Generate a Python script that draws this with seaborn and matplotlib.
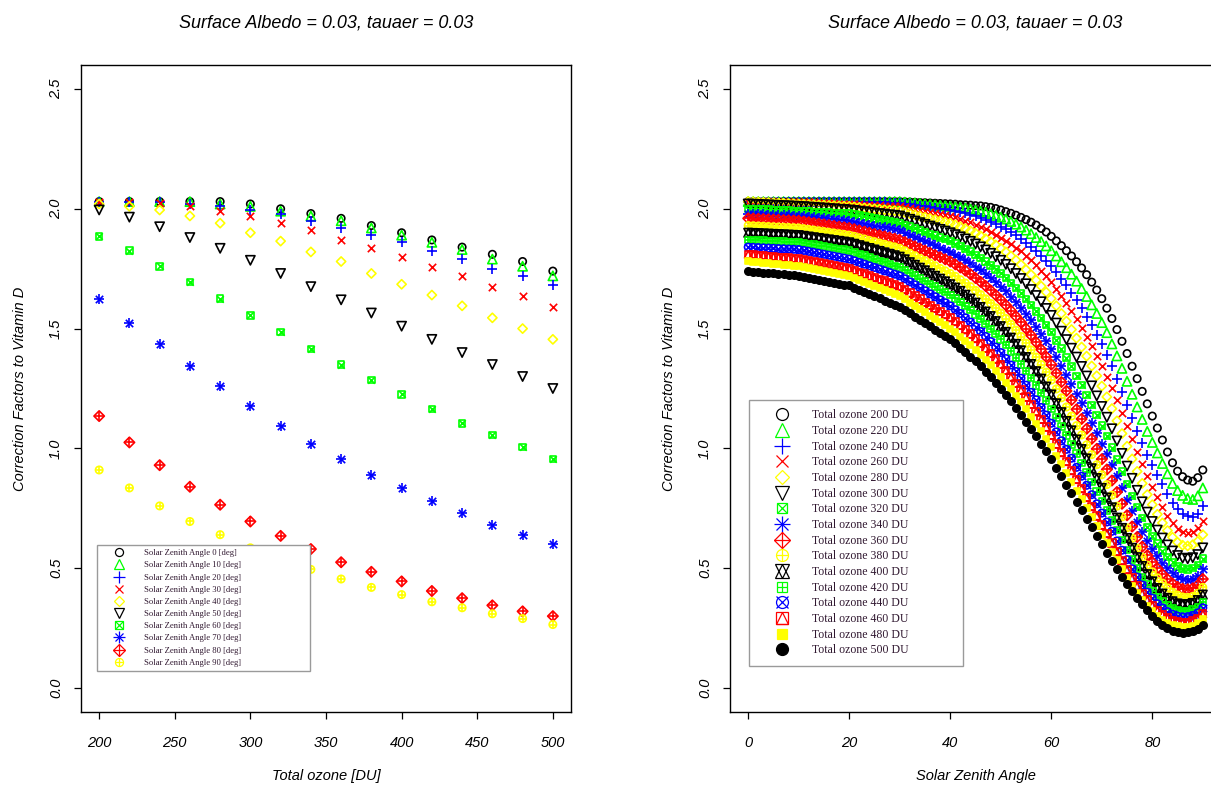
import numpy as np
import matplotlib
matplotlib.use('Agg')  # no display
import matplotlib.pyplot as plt
from matplotlib.lines import Line2D
from matplotlib.markers import MarkerStyle
import seaborn as sns

# ---------------- data: left panel (factor vs total ozone, one series per SZA) ----------------
ozone = [200, 220, 240, 260, 280, 300, 320, 340, 360, 380, 400, 420, 440, 460, 480, 500]
sza_left = [0, 10, 20, 30, 40, 50, 60, 70, 80, 90]

cf_sza0 = [2.03, 2.03, 2.03, 2.03, 2.03, 2.02, 2.00, 1.98, 1.96, 1.93, 1.90, 1.87, 1.84, 1.81, 1.78, 1.74]
cf_sza10 = [2.03, 2.03, 2.03, 2.03, 2.02, 2.01, 1.99, 1.97, 1.95, 1.92, 1.89, 1.86, 1.83, 1.79, 1.76, 1.72]
cf_sza20 = [2.03, 2.03, 2.03, 2.02, 2.01, 1.995, 1.98, 1.95, 1.92, 1.89, 1.86, 1.825, 1.79, 1.75, 1.72, 1.68]
cf_sza30 = [2.03, 2.03, 2.025, 2.01, 1.99, 1.97, 1.94, 1.91, 1.87, 1.835, 1.80, 1.755, 1.72, 1.675, 1.635, 1.59]
cf_sza40 = [2.02, 2.01, 1.995, 1.97, 1.94, 1.90, 1.865, 1.82, 1.78, 1.73, 1.685, 1.64, 1.595, 1.545, 1.50, 1.455]
cf_sza50 = [1.995, 1.965, 1.925, 1.88, 1.835, 1.785, 1.73, 1.675, 1.62, 1.565, 1.51, 1.455, 1.40, 1.35, 1.30, 1.25]
cf_sza60 = [1.885, 1.825, 1.76, 1.695, 1.625, 1.555, 1.485, 1.415, 1.35, 1.285, 1.225, 1.165, 1.105, 1.055, 1.005, 0.955]
cf_sza70 = [1.625, 1.525, 1.435, 1.345, 1.26, 1.175, 1.095, 1.02, 0.955, 0.89, 0.835, 0.78, 0.73, 0.68, 0.64, 0.60]
cf_sza80 = [1.135, 1.025, 0.93, 0.84, 0.765, 0.695, 0.635, 0.58, 0.525, 0.485, 0.445, 0.405, 0.375, 0.345, 0.32, 0.30]
cf_sza90 = [0.91, 0.835, 0.76, 0.695, 0.64, 0.585, 0.54, 0.495, 0.455, 0.42, 0.39, 0.36, 0.335, 0.31, 0.29, 0.265]

# ---------------- data: right panel (factor vs SZA 0..90, one series per ozone) ----------------
sza_deg = np.arange(0, 91)

cf_o200 = [2.03, 2.03, 2.03, 2.03, 2.03, 2.03, 2.03, 2.03, 2.03, 2.03,
           2.03, 2.03, 2.03, 2.03, 2.03, 2.03, 2.03, 2.03, 2.03, 2.03,
           2.03, 2.03, 2.03, 2.03, 2.03, 2.03, 2.03, 2.03, 2.03, 2.03,
           2.03, 2.029, 2.028, 2.027, 2.026, 2.025, 2.024, 2.023, 2.022, 2.021,
           2.02, 2.019, 2.017, 2.016, 2.015, 2.013, 2.012, 2.009, 2.006, 2.001,
           1.995, 1.988, 1.981, 1.973, 1.964, 1.955, 1.944, 1.932, 1.918, 1.903,
           1.885, 1.866, 1.846, 1.825, 1.803, 1.779, 1.753, 1.725, 1.694, 1.661,
           1.625, 1.585, 1.542, 1.496, 1.447, 1.396, 1.343, 1.291, 1.238, 1.186,
           1.135, 1.085, 1.035, 0.985, 0.94, 0.905, 0.882, 0.868, 0.863, 0.878,
           0.91]
cf_o220 = [2.03, 2.03, 2.03, 2.03, 2.03, 2.03, 2.03, 2.03, 2.03, 2.03,
           2.03, 2.03, 2.03, 2.03, 2.03, 2.03, 2.03, 2.03, 2.03, 2.03,
           2.03, 2.03, 2.03, 2.03, 2.03, 2.03, 2.03, 2.03, 2.03, 2.03,
           2.03, 2.028, 2.026, 2.024, 2.022, 2.02, 2.018, 2.016, 2.014, 2.012,
           2.01, 2.008, 2.006, 2.003, 1.999, 1.995, 1.990, 1.985, 1.979, 1.972,
           1.965, 1.957, 1.947, 1.936, 1.924, 1.911, 1.896, 1.880, 1.863, 1.845,
           1.825, 1.803, 1.779, 1.754, 1.727, 1.698, 1.667, 1.634, 1.599, 1.563,
           1.525, 1.483, 1.436, 1.386, 1.334, 1.28, 1.226, 1.173, 1.121, 1.071,
           1.025, 0.981, 0.937, 0.894, 0.854, 0.824, 0.804, 0.791, 0.787, 0.802,
           0.835]
cf_o240 = [2.03, 2.03, 2.03, 2.03, 2.03, 2.03, 2.03, 2.03, 2.03, 2.03,
           2.03, 2.03, 2.03, 2.03, 2.03, 2.03, 2.03, 2.03, 2.03, 2.03,
           2.03, 2.03, 2.029, 2.029, 2.028, 2.028, 2.027, 2.027, 2.026, 2.026,
           2.025, 2.022, 2.019, 2.016, 2.013, 2.01, 2.007, 2.004, 2.001, 1.998,
           1.995, 1.991, 1.986, 1.981, 1.975, 1.968, 1.961, 1.953, 1.944, 1.935,
           1.925, 1.914, 1.902, 1.889, 1.874, 1.859, 1.841, 1.823, 1.803, 1.782,
           1.76, 1.735, 1.709, 1.68, 1.65, 1.619, 1.585, 1.55, 1.514, 1.475,
           1.435, 1.391, 1.342, 1.29, 1.236, 1.181, 1.126, 1.072, 1.021, 0.973,
           0.93, 0.89, 0.85, 0.81, 0.774, 0.746, 0.728, 0.717, 0.713, 0.728,
           0.76]
cf_o260 = [2.03, 2.03, 2.03, 2.03, 2.03, 2.03, 2.03, 2.03, 2.03, 2.03,
           2.03, 2.029, 2.028, 2.027, 2.026, 2.025, 2.024, 2.023, 2.022, 2.021,
           2.02, 2.019, 2.018, 2.017, 2.016, 2.015, 2.014, 2.013, 2.012, 2.011,
           2.01, 2.006, 2.002, 1.998, 1.994, 1.99, 1.986, 1.982, 1.978, 1.974,
           1.97, 1.964, 1.958, 1.951, 1.943, 1.934, 1.925, 1.915, 1.904, 1.892,
           1.88, 1.867, 1.853, 1.838, 1.822, 1.804, 1.785, 1.764, 1.742, 1.719,
           1.695, 1.667, 1.638, 1.607, 1.574, 1.54, 1.504, 1.467, 1.428, 1.387,
           1.345, 1.3, 1.252, 1.201, 1.148, 1.094, 1.04, 0.987, 0.935, 0.886,
           0.84, 0.796, 0.756, 0.719, 0.688, 0.665, 0.652, 0.648, 0.653, 0.667,
           0.695]
cf_o280 = [2.03, 2.029, 2.028, 2.027, 2.026, 2.025, 2.024, 2.023, 2.022, 2.021,
           2.02, 2.019, 2.018, 2.017, 2.016, 2.015, 2.014, 2.013, 2.012, 2.011,
           2.01, 2.008, 2.006, 2.004, 2.002, 2.0, 1.998, 1.996, 1.994, 1.992,
           1.99, 1.985, 1.98, 1.975, 1.97, 1.965, 1.96, 1.955, 1.95, 1.945,
           1.94, 1.933, 1.925, 1.917, 1.908, 1.898, 1.887, 1.875, 1.862, 1.849,
           1.835, 1.82, 1.803, 1.786, 1.767, 1.746, 1.725, 1.702, 1.677, 1.652,
           1.625, 1.595, 1.563, 1.531, 1.496, 1.46, 1.423, 1.385, 1.344, 1.303,
           1.26, 1.215, 1.166, 1.115, 1.062, 1.009, 0.956, 0.904, 0.854, 0.807,
           0.765, 0.725, 0.689, 0.657, 0.629, 0.608, 0.596, 0.593, 0.598, 0.612,
           0.64]
cf_o300 = [2.02, 2.019, 2.018, 2.017, 2.016, 2.015, 2.014, 2.013, 2.012, 2.011,
           2.01, 2.009, 2.007, 2.006, 2.004, 2.003, 2.001, 2.0, 1.998, 1.997,
           1.995, 1.993, 1.99, 1.988, 1.985, 1.983, 1.98, 1.978, 1.975, 1.973,
           1.97, 1.963, 1.956, 1.949, 1.942, 1.935, 1.928, 1.921, 1.914, 1.907,
           1.9, 1.892, 1.883, 1.874, 1.864, 1.853, 1.841, 1.828, 1.814, 1.8,
           1.785, 1.768, 1.75, 1.73, 1.709, 1.687, 1.663, 1.638, 1.612, 1.584,
           1.555, 1.523, 1.489, 1.454, 1.418, 1.381, 1.342, 1.302, 1.261, 1.219,
           1.175, 1.13, 1.082, 1.031, 0.979, 0.926, 0.875, 0.825, 0.777, 0.734,
           0.695, 0.659, 0.626, 0.597, 0.572, 0.553, 0.542, 0.539, 0.544, 0.557,
           0.585]
cf_o320 = [2.0, 1.999, 1.998, 1.997, 1.996, 1.995, 1.994, 1.993, 1.992, 1.991,
           1.99, 1.989, 1.988, 1.987, 1.986, 1.985, 1.984, 1.983, 1.982, 1.981,
           1.98, 1.976, 1.972, 1.968, 1.964, 1.96, 1.956, 1.952, 1.948, 1.944,
           1.94, 1.933, 1.925, 1.918, 1.91, 1.903, 1.895, 1.888, 1.88, 1.873,
           1.865, 1.855, 1.845, 1.833, 1.821, 1.808, 1.794, 1.779, 1.764, 1.747,
           1.73, 1.711, 1.691, 1.67, 1.647, 1.624, 1.598, 1.572, 1.544, 1.515,
           1.485, 1.451, 1.416, 1.379, 1.342, 1.303, 1.264, 1.223, 1.182, 1.139,
           1.095, 1.051, 1.003, 0.953, 0.903, 0.852, 0.802, 0.755, 0.71, 0.67,
           0.635, 0.603, 0.573, 0.547, 0.524, 0.508, 0.498, 0.495, 0.5, 0.513,
           0.54]
cf_o340 = [1.98, 1.979, 1.978, 1.977, 1.976, 1.975, 1.974, 1.973, 1.972, 1.971,
           1.97, 1.968, 1.966, 1.964, 1.962, 1.96, 1.958, 1.956, 1.954, 1.952,
           1.95, 1.946, 1.942, 1.938, 1.934, 1.93, 1.926, 1.922, 1.918, 1.914,
           1.91, 1.901, 1.892, 1.883, 1.874, 1.865, 1.856, 1.847, 1.838, 1.829,
           1.82, 1.809, 1.798, 1.785, 1.772, 1.758, 1.743, 1.727, 1.711, 1.693,
           1.675, 1.655, 1.633, 1.61, 1.586, 1.561, 1.534, 1.506, 1.477, 1.447,
           1.415, 1.38, 1.343, 1.306, 1.268, 1.229, 1.189, 1.148, 1.106, 1.064,
           1.02, 0.977, 0.93, 0.883, 0.834, 0.785, 0.738, 0.693, 0.651, 0.613,
           0.58, 0.55, 0.523, 0.499, 0.478, 0.463, 0.454, 0.451, 0.455, 0.469,
           0.495]
cf_o360 = [1.96, 1.959, 1.958, 1.957, 1.956, 1.955, 1.954, 1.953, 1.952, 1.951,
           1.95, 1.947, 1.944, 1.941, 1.938, 1.935, 1.932, 1.929, 1.926, 1.923,
           1.92, 1.915, 1.91, 1.905, 1.9, 1.895, 1.89, 1.885, 1.88, 1.875,
           1.87, 1.861, 1.852, 1.843, 1.834, 1.825, 1.816, 1.807, 1.798, 1.789,
           1.78, 1.768, 1.755, 1.742, 1.727, 1.711, 1.695, 1.678, 1.659, 1.64,
           1.62, 1.598, 1.575, 1.551, 1.526, 1.5, 1.472, 1.443, 1.413, 1.382,
           1.35, 1.314, 1.277, 1.24, 1.202, 1.163, 1.123, 1.082, 1.04, 0.998,
           0.955, 0.912, 0.866, 0.818, 0.769, 0.721, 0.674, 0.63, 0.59, 0.554,
           0.525, 0.499, 0.475, 0.454, 0.436, 0.422, 0.414, 0.412, 0.416, 0.429,
           0.455]
cf_o380 = [1.93, 1.929, 1.928, 1.927, 1.926, 1.925, 1.924, 1.923, 1.922, 1.921,
           1.92, 1.917, 1.914, 1.911, 1.908, 1.905, 1.902, 1.899, 1.896, 1.893,
           1.89, 1.885, 1.879, 1.874, 1.868, 1.863, 1.857, 1.852, 1.846, 1.841,
           1.835, 1.825, 1.814, 1.804, 1.793, 1.783, 1.772, 1.762, 1.751, 1.741,
           1.73, 1.718, 1.704, 1.69, 1.675, 1.659, 1.642, 1.624, 1.605, 1.586,
           1.565, 1.542, 1.518, 1.493, 1.467, 1.439, 1.411, 1.381, 1.35, 1.318,
           1.285, 1.248, 1.211, 1.173, 1.135, 1.095, 1.056, 1.015, 0.974, 0.932,
           0.89, 0.849, 0.805, 0.759, 0.714, 0.669, 0.625, 0.584, 0.546, 0.513,
           0.485, 0.46, 0.438, 0.418, 0.4, 0.388, 0.38, 0.378, 0.382, 0.395,
           0.42]
cf_o400 = [1.9, 1.899, 1.898, 1.897, 1.896, 1.895, 1.894, 1.893, 1.892, 1.891,
           1.89, 1.887, 1.884, 1.881, 1.878, 1.875, 1.872, 1.869, 1.866, 1.863,
           1.86, 1.854, 1.848, 1.842, 1.836, 1.83, 1.824, 1.818, 1.812, 1.806,
           1.8, 1.789, 1.777, 1.766, 1.754, 1.743, 1.731, 1.72, 1.708, 1.697,
           1.685, 1.671, 1.657, 1.641, 1.625, 1.608, 1.59, 1.571, 1.552, 1.531,
           1.51, 1.486, 1.462, 1.436, 1.409, 1.381, 1.352, 1.322, 1.291, 1.258,
           1.225, 1.188, 1.151, 1.114, 1.075, 1.037, 0.997, 0.958, 0.917, 0.876,
           0.835, 0.795, 0.754, 0.711, 0.668, 0.626, 0.585, 0.546, 0.509, 0.475,
           0.445, 0.417, 0.394, 0.376, 0.362, 0.353, 0.349, 0.35, 0.355, 0.367,
           0.39]
cf_o420 = [1.87, 1.869, 1.868, 1.867, 1.866, 1.865, 1.864, 1.863, 1.862, 1.861,
           1.86, 1.857, 1.853, 1.85, 1.846, 1.843, 1.839, 1.836, 1.832, 1.829,
           1.825, 1.818, 1.811, 1.804, 1.797, 1.79, 1.783, 1.776, 1.769, 1.762,
           1.755, 1.744, 1.732, 1.721, 1.709, 1.698, 1.686, 1.675, 1.663, 1.652,
           1.64, 1.626, 1.61, 1.594, 1.577, 1.559, 1.54, 1.52, 1.499, 1.478,
           1.455, 1.431, 1.405, 1.379, 1.351, 1.323, 1.293, 1.263, 1.231, 1.199,
           1.165, 1.128, 1.091, 1.054, 1.016, 0.978, 0.939, 0.9, 0.86, 0.82,
           0.78, 0.741, 0.7, 0.659, 0.617, 0.576, 0.537, 0.499, 0.464, 0.432,
           0.405, 0.38, 0.361, 0.344, 0.333, 0.325, 0.321, 0.322, 0.327, 0.338,
           0.36]
cf_o440 = [1.84, 1.839, 1.838, 1.837, 1.836, 1.835, 1.834, 1.833, 1.832, 1.831,
           1.83, 1.826, 1.822, 1.818, 1.814, 1.81, 1.806, 1.802, 1.798, 1.794,
           1.79, 1.783, 1.776, 1.769, 1.762, 1.755, 1.748, 1.741, 1.734, 1.727,
           1.72, 1.708, 1.695, 1.683, 1.67, 1.658, 1.645, 1.633, 1.62, 1.608,
           1.595, 1.579, 1.563, 1.545, 1.527, 1.508, 1.488, 1.467, 1.446, 1.423,
           1.4, 1.375, 1.348, 1.321, 1.293, 1.264, 1.234, 1.203, 1.171, 1.139,
           1.105, 1.069, 1.032, 0.996, 0.959, 0.921, 0.884, 0.846, 0.807, 0.769,
           0.73, 0.693, 0.654, 0.614, 0.575, 0.536, 0.498, 0.463, 0.43, 0.4,
           0.375, 0.352, 0.334, 0.319, 0.308, 0.3, 0.297, 0.298, 0.303, 0.314,
           0.335]
cf_o460 = [1.81, 1.808, 1.806, 1.804, 1.802, 1.8, 1.798, 1.796, 1.794, 1.792,
           1.79, 1.786, 1.782, 1.778, 1.774, 1.77, 1.766, 1.762, 1.758, 1.754,
           1.75, 1.743, 1.735, 1.728, 1.72, 1.713, 1.705, 1.698, 1.69, 1.683,
           1.675, 1.662, 1.649, 1.636, 1.623, 1.61, 1.597, 1.584, 1.571, 1.558,
           1.545, 1.529, 1.513, 1.495, 1.477, 1.458, 1.438, 1.417, 1.396, 1.373,
           1.35, 1.325, 1.298, 1.271, 1.243, 1.214, 1.184, 1.153, 1.121, 1.089,
           1.055, 1.018, 0.982, 0.945, 0.907, 0.87, 0.832, 0.795, 0.757, 0.718,
           0.68, 0.644, 0.606, 0.569, 0.531, 0.494, 0.459, 0.426, 0.395, 0.368,
           0.345, 0.324, 0.307, 0.293, 0.283, 0.276, 0.273, 0.274, 0.279, 0.289,
           0.31]
cf_o480 = [1.78, 1.778, 1.776, 1.774, 1.772, 1.77, 1.768, 1.766, 1.764, 1.762,
           1.76, 1.756, 1.752, 1.748, 1.744, 1.74, 1.736, 1.732, 1.728, 1.724,
           1.72, 1.712, 1.703, 1.695, 1.686, 1.678, 1.669, 1.661, 1.652, 1.644,
           1.635, 1.622, 1.608, 1.595, 1.581, 1.568, 1.554, 1.541, 1.527, 1.514,
           1.5, 1.484, 1.466, 1.448, 1.43, 1.41, 1.39, 1.368, 1.346, 1.324,
           1.3, 1.274, 1.248, 1.22, 1.192, 1.163, 1.133, 1.102, 1.071, 1.038,
           1.005, 0.969, 0.933, 0.897, 0.861, 0.824, 0.788, 0.751, 0.714, 0.677,
           0.64, 0.605, 0.569, 0.533, 0.496, 0.461, 0.427, 0.396, 0.367, 0.341,
           0.32, 0.301, 0.285, 0.272, 0.263, 0.257, 0.254, 0.255, 0.259, 0.27,
           0.29]
cf_o500 = [1.74, 1.738, 1.736, 1.734, 1.732, 1.73, 1.728, 1.726, 1.724, 1.722,
           1.72, 1.716, 1.712, 1.708, 1.704, 1.7, 1.696, 1.692, 1.688, 1.684,
           1.68, 1.671, 1.662, 1.653, 1.644, 1.635, 1.626, 1.617, 1.608, 1.599,
           1.59, 1.577, 1.563, 1.55, 1.536, 1.523, 1.509, 1.496, 1.482, 1.469,
           1.455, 1.438, 1.42, 1.402, 1.383, 1.363, 1.342, 1.32, 1.297, 1.274,
           1.25, 1.224, 1.197, 1.169, 1.141, 1.112, 1.082, 1.051, 1.02, 0.988,
           0.955, 0.92, 0.884, 0.849, 0.813, 0.778, 0.742, 0.707, 0.671, 0.636,
           0.6, 0.565, 0.53, 0.497, 0.465, 0.435, 0.405, 0.377, 0.35, 0.324,
           0.3, 0.279, 0.262, 0.249, 0.239, 0.233, 0.231, 0.232, 0.236, 0.246,
           0.265]

left_series = [cf_sza0, cf_sza10, cf_sza20, cf_sza30, cf_sza40,
               cf_sza50, cf_sza60, cf_sza70, cf_sza80, cf_sza90]
right_series = [cf_o200, cf_o220, cf_o240, cf_o260, cf_o280, cf_o300, cf_o320, cf_o340,
                cf_o360, cf_o380, cf_o400, cf_o420, cf_o440, cf_o460, cf_o480, cf_o500]

# R palette 1..5 recycled (black, green, blue, red, yellow)
r_cols = ['#000000', '#00FF00', '#0000FF', '#FF0000', '#FFFF00']

# R pch symbols rebuilt from matplotlib markers: (marker, size factor, filled?)
# filled=None -> line-art marker (+ / x)
PCH = {
    1: [('o', 1.0, False)],
    2: [('^', 1.25, False)],
    3: [('+', 1.41, None)],
    4: [('x', 1.0, None)],
    5: [('D', 0.886, False)],
    6: [('v', 1.25, False)],
    7: [('s', 0.886, False), ('x', 0.886, None)],
    8: [('+', 1.41, None), ('x', 1.0, None)],
    9: [('D', 1.0, False), ('+', 1.41, None)],
    10: [('o', 1.0, False), ('+', 1.0, None)],
    11: [('^', 1.15, False), ('v', 1.15, False)],
    12: [('s', 0.886, False), ('+', 0.886, None)],
    13: [('o', 1.0, False), ('x', 1.0, None)],
    14: [('s', 1.0, False), ('^', 1.0, False)],
    15: [('s', 0.886, True)],
    16: [('o', 1.0, True)],
}
LW = 1.2


def draw_pch(ax, x, y, pch, color, d):
    for marker, f, filled in PCH[pch]:
        size = (f * d) ** 2
        if filled is None:
            sns.scatterplot(x=x, y=y, ax=ax, marker=marker, s=size, color=color, linewidth=LW)
        elif filled:
            sns.scatterplot(x=x, y=y, ax=ax, marker=marker, s=size, color=color,
                            edgecolor=color, linewidth=LW)
        else:
            sns.scatterplot(x=x, y=y, ax=ax, marker=MarkerStyle(marker, fillstyle='none'),
                            s=size, color=color, linewidth=LW)


def pch_handle(pch, color, d):
    parts = []
    for marker, f, filled in PCH[pch]:
        if filled is None:
            h = Line2D([], [], ls='none', marker=marker, markersize=f * d, color=color,
                       markeredgewidth=0.9)
        elif filled:
            h = Line2D([], [], ls='none', marker=marker, markersize=f * d, color=color,
                       markeredgecolor=color, markeredgewidth=0.9)
        else:
            h = Line2D([], [], ls='none', marker=marker, markersize=f * d, color=color,
                       markerfacecolor='none', markeredgewidth=0.9)
        parts.append(h)
    return tuple(parts)


# ---------------- styling ----------------
sns.set_theme(style="ticks")
plt.rcParams['font.family'] = ['Liberation Sans', 'DejaVu Sans']
plt.rcParams['font.style'] = 'italic'
plt.rcParams['axes.edgecolor'] = 'black'
plt.rcParams['axes.linewidth'] = 1.0
plt.rcParams['xtick.color'] = 'black'
plt.rcParams['ytick.color'] = 'black'
plt.rcParams['text.color'] = 'black'
plt.rcParams['axes.labelcolor'] = 'black'

TITLE = 'Surface Albedo = 0.03, tauaer = 0.03'
legend_prop = dict(family='Liberation Serif', style='normal')

fig = plt.figure(figsize=(12.11, 7.86), dpi=100)
ax1 = fig.add_axes([81 / 1211, 74 / 786, 490 / 1211, 647 / 786])
ax2 = fig.add_axes([730 / 1211, 74 / 786, 491 / 1211, 647 / 786])

# ---------------- left panel ----------------
d_plot = 5.3
for i, vals in enumerate(left_series):
    draw_pch(ax1, ozone, vals, i + 1, r_cols[i % 5], d_plot)

ax1.set_xlim(188, 512)
ax1.set_xticks([200, 250, 300, 350, 400, 450, 500])
ax1.set_xlabel('Total ozone [DU]', fontsize=10.5, labelpad=14)

left_handles = [pch_handle(i + 1, r_cols[i % 5], 5.8) for i in range(len(sza_left))]
left_labels = [f'Solar Zenith Angle {s} [deg]' for s in sza_left]
leg1 = ax1.legend(left_handles, left_labels, loc='upper left',
                  bbox_to_anchor=(16 / 490, 40 / 647, 213 / 490, 127 / 647), mode='expand',
                  borderaxespad=0, prop=dict(legend_prop, size=6.2), labelspacing=0.48,
                  handlelength=4.2, handletextpad=0.8, borderpad=0.5,
                  fancybox=False, framealpha=1, edgecolor='#9a9a9a')
leg1.get_frame().set_linewidth(1.0)
for t in leg1.get_texts():
    t.set_color('#301830')

# ---------------- right panel ----------------
for i, vals in enumerate(right_series):
    draw_pch(ax2, sza_deg, vals, i + 1, r_cols[i % 5], d_plot)

ax2.set_xlim(-3.6, 93.6)
ax2.set_xticks([0, 20, 40, 60, 80])
ax2.set_xlabel('Solar Zenith Angle', fontsize=10.5, labelpad=14)

right_handles = [pch_handle(i + 1, r_cols[i % 5], 8.6) for i in range(len(ozone))]
right_labels = [f'Total ozone {o} DU' for o in ozone]
leg2 = ax2.legend(right_handles, right_labels, loc='upper left',
                  bbox_to_anchor=(19 / 491, 47 / 647, 214 / 491, 265 / 647), mode='expand',
                  borderaxespad=0, prop=dict(legend_prop, size=8.5), labelspacing=0.31,
                  handlelength=4.0, handletextpad=0.5, borderpad=0.8,
                  fancybox=False, framealpha=1, edgecolor='#9a9a9a')
leg2.get_frame().set_linewidth(1.0)
for t in leg2.get_texts():
    t.set_color('#301830')

# ---------------- shared axis cosmetics (R base graphics look) ----------------
for ax in (ax1, ax2):
    ax.set_ylim(-0.1, 2.6)
    ax.set_yticks([0.0, 0.5, 1.0, 1.5, 2.0, 2.5])
    ax.set_yticklabels(['0.0', '0.5', '1.0', '1.5', '2.0', '2.5'])
    ax.set_ylabel('Correction Factors to Vitamin D', fontsize=10.5, labelpad=16)
    ax.set_title(TITLE, fontsize=13, pad=27)
    ax.tick_params(axis='both', direction='out', length=5, width=0.9, labelsize=10.5)
    ax.tick_params(axis='x', pad=12)
    ax.tick_params(axis='y', pad=8, labelrotation=90)
    plt.setp(ax.get_yticklabels(), va='center')
    for side in ['top', 'right', 'left', 'bottom']:
        ax.spines[side].set_visible(True)
        ax.spines[side].set_color('black')
        ax.spines[side].set_linewidth(1.0)

plt.savefig('out.png', dpi=100)
plt.close()
print("Saved out.png")
